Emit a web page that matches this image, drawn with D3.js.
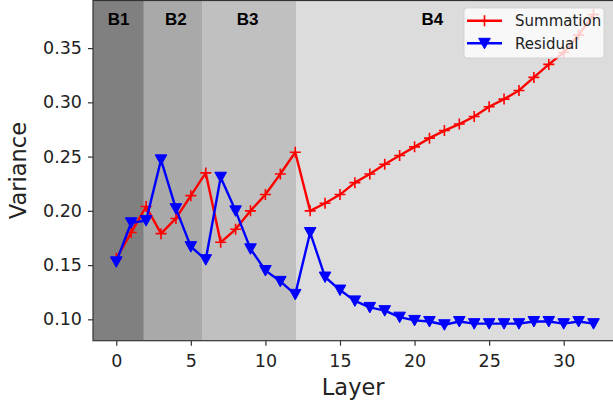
<!DOCTYPE html>
<html>
<head>
<meta charset="utf-8">
<script src="https://cdn.jsdelivr.net/npm/d3@7"></script>
<style>
  html, body { margin: 0; padding: 0; background: #fff; }
  svg { display: block; }
</style>
</head>
<body>
<svg id="chart" width="613" height="408"></svg>
<script>
const layers = d3.range(0, 33);
const summation = [0.156, 0.180, 0.204, 0.179, 0.193, 0.214, 0.235, 0.171, 0.183, 0.200,
  0.215, 0.234, 0.254, 0.200, 0.207, 0.215, 0.226, 0.234, 0.243, 0.251,
  0.259, 0.267, 0.274, 0.280, 0.287, 0.296, 0.303, 0.311, 0.323, 0.335,
  0.346, 0.362, 0.381];
const residual = [0.153, 0.189, 0.191, 0.247, 0.202, 0.167, 0.155, 0.231, 0.200, 0.165,
  0.145, 0.135, 0.123, 0.180, 0.139, 0.127, 0.117, 0.111, 0.108, 0.102,
  0.099, 0.098, 0.095, 0.098, 0.096, 0.096, 0.096, 0.096, 0.098, 0.098,
  0.096, 0.098, 0.096];
const bandLabels = ["B1", "B2", "B3", "B4"];
const bandEdges = [-3, 1.85, 5.75, 12.05, 40];
const bandColors = ["#808080", "#a9a9a9", "#c0c0c0", "#dcdcdc"];
const xTicks = [0, 5, 10, 15, 20, 25, 30];
const yTicks = [0.10, 0.15, 0.20, 0.25, 0.30, 0.35];
const seriesNames = ["Summation", "Residual"];
const seriesColors = ["#ff0000", "#0000ff"];

const svg = d3.select("#chart");
const L = 93, R = 617.4, T = 0.5, B = 340.7;
const x = d3.scaleLinear().domain([-1.56, 33.6]).range([L, R]);
const y = d3.scaleLinear().domain([0.0803, 0.3939]).range([B, T]);

svg.append("clipPath").attr("id", "clip").append("rect")
  .attr("x", L).attr("y", T).attr("width", R - L).attr("height", B - T);

const plot = svg.append("g").attr("clip-path", "url(#clip)");

// bands
plot.selectAll("rect.band").data(bandColors).join("rect")
  .attr("class", "band")
  .attr("x", (d, i) => x(bandEdges[i]))
  .attr("width", (d, i) => x(bandEdges[i + 1]) - x(bandEdges[i]))
  .attr("y", T).attr("height", B - T)
  .attr("fill", d => d);

// band labels
const labelPos = [0.15, 4.0, 8.8, 21.2];
plot.selectAll("text.band").data(bandLabels).join("text")
  .attr("x", (d, i) => x(labelPos[i]))
  .attr("y", 25)
  .attr("text-anchor", "middle")
  .attr("font-family", "Liberation Sans, Arial, sans-serif")
  .attr("font-weight", "bold")
  .attr("font-size", 17)
  .attr("fill", "#000")
  .text(d => d);

const line = d3.line().x((d, i) => x(layers[i])).y(d => y(d));

const plusPath = "M-5.5,0H5.5M0,-5.5V5.5";
const triPath = "M-5.8,-5 L5.8,-5 L0,5.5 Z";

function drawSeries(data, color, marker) {
  plot.append("path").datum(data)
    .attr("d", line).attr("fill", "none")
    .attr("stroke", color).attr("stroke-width", 2.4)
    .attr("stroke-linejoin", "round");
  const g = plot.append("g");
  g.selectAll("path").data(data).join("path")
    .attr("transform", (d, i) => `translate(${x(layers[i])},${y(d)})`)
    .attr("d", marker === "plus" ? plusPath : triPath)
    .attr("fill", marker === "plus" ? "none" : color)
    .attr("stroke", color)
    .attr("stroke-width", marker === "plus" ? 1.6 : 1);
}
drawSeries(summation, seriesColors[0], "plus");
drawSeries(residual, seriesColors[1], "tri");

// frame
svg.append("rect").attr("x", L).attr("y", T).attr("width", R - L).attr("height", B - T)
  .attr("fill", "none").attr("stroke", "#333").attr("stroke-width", 1.2);

// axes
const xAxis = svg.append("g").attr("transform", `translate(0,${B})`)
  .call(d3.axisBottom(x).tickValues(xTicks).tickSize(5).tickPadding(5).tickFormat(d3.format("d")));
const yAxis = svg.append("g").attr("transform", `translate(${L},0)`)
  .call(d3.axisLeft(y).tickValues(yTicks).tickSize(5).tickPadding(6).tickFormat(d3.format(".2f")));
[xAxis, yAxis].forEach(a => {
  a.select(".domain").remove();
  a.selectAll("line").attr("stroke", "#333").attr("stroke-width", 1.2);
  a.selectAll("text").attr("font-family", "DejaVu Sans, sans-serif").attr("font-size", 17.5).attr("fill", "#222");
});
xAxis.selectAll("text").attr("dy", "0.95em");

svg.append("text").attr("x", (L + R) / 2 - 2).attr("y", 395)
  .attr("text-anchor", "middle").attr("font-family", "DejaVu Sans, sans-serif")
  .attr("font-size", 22.5).attr("fill", "#222").text("Layer");
svg.append("text").attr("transform", `translate(26,${(T + B) / 2}) rotate(-90)`)
  .attr("text-anchor", "middle").attr("font-family", "DejaVu Sans, sans-serif")
  .attr("font-size", 22.5).attr("fill", "#222").text("Variance");

// legend
const lg = svg.append("g");
lg.append("rect").attr("x", 464).attr("y", 8).attr("width", 140).attr("height", 50)
  .attr("rx", 3).attr("fill", "#fff").attr("fill-opacity", 0.8)
  .attr("stroke", "#ccc").attr("stroke-opacity", 0.8);
seriesNames.forEach((name, i) => {
  const yy = 20.7 + i * 22.6;
  lg.append("line").attr("x1", 467).attr("x2", 502).attr("y1", yy).attr("y2", yy)
    .attr("stroke", seriesColors[i]).attr("stroke-width", 2.4);
  lg.append("path").attr("transform", `translate(484.5,${yy})`)
    .attr("d", i === 0 ? plusPath : triPath)
    .attr("fill", i === 0 ? "none" : seriesColors[i])
    .attr("stroke", seriesColors[i]).attr("stroke-width", i === 0 ? 1.6 : 1);
  lg.append("text").attr("x", 515).attr("y", yy + 5.5)
    .attr("font-family", "DejaVu Sans, sans-serif").attr("font-size", 15)
    .attr("fill", "#222").text(name);
});
</script>
</body>
</html>
